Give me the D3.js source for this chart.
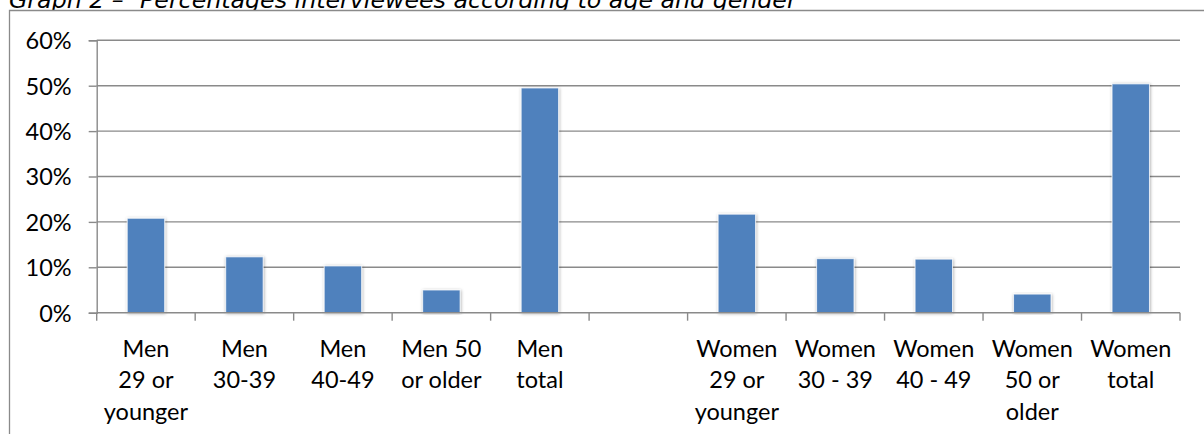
<!DOCTYPE html>
<html>
<head>
<meta charset="utf-8">
<script src="https://cdn.jsdelivr.net/npm/d3@7"></script>
<style>
  html, body { margin: 0; padding: 0; background: #fff; overflow: hidden; }
  svg { display: block; }
</style>
</head>
<body>
<svg id="chart" width="1204" height="434"></svg>
<script>
// Caption
const titleLead = "Graph 2 –";
const titleText = "Percentages interviewees according to age and gender";

// Categories (one empty slot separates men and women)
const categories = [
  "Men 29 or younger", "Men 30-39", "Men 40-49", "Men 50 or older", "Men total",
  "",
  "Women 29 or younger", "Women 30 - 39", "Women 40 - 49", "Women 50 or older", "Women total"
];
// Wrapped axis labels, one array of lines per category
const categoryLines = [
  ["Men", "29 or", "younger"], ["Men", "30-39"], ["Men", "40-49"], ["Men 50", "or older"], ["Men", "total"],
  [],
  ["Women", "29 or", "younger"], ["Women", "30 - 39"], ["Women", "40 - 49"], ["Women", "50 or", "older"], ["Women", "total"]
];
// Share of interviewees, percent
const values = [20.8, 12.3, 10.3, 5.0, 49.5, null, 21.7, 11.9, 11.8, 4.1, 50.4];

// Value axis ticks, percent
const yTicks = [0, 10, 20, 30, 40, 50, 60];

const svg = d3.select("#chart");
const W = 1204, H = 434;
const plot = { left: 96.7, right: 1180, top: 40.3, bottom: 312.7 };
const gridColor = "#8a8a8a";
const barColor = "#4f81bd";
const labelFont = "Lato, 'Open Sans', sans-serif";

// Soft shadow around the columns
const defs = svg.append("defs");
const f = defs.append("filter").attr("id", "barShadow")
  .attr("x", "-30%").attr("y", "-10%").attr("width", "160%").attr("height", "120%");
f.append("feDropShadow").attr("dx", 0.6).attr("dy", 0.6)
  .attr("stdDeviation", 1.6).attr("flood-color", "#000").attr("flood-opacity", 0.35);

// Caption, running off the top edge
const title = svg.append("text")
  .attr("y", 7.5)
  .attr("font-family", "'DejaVu Sans', Verdana, sans-serif")
  .attr("font-style", "italic")
  .attr("font-size", 21)
  .attr("fill", "#000");
title.append("tspan").attr("x", 9).text(titleLead);
const titleMain = title.append("tspan").attr("x", 140).text(titleText);
const mainLen = titleMain.node().getComputedTextLength();
title.attr("font-size", 21 * 657 / mainLen);

// Chart area with its frame, laid over the caption's descenders
svg.append("rect")
  .attr("x", 9.5).attr("y", 10.5)
  .attr("width", W).attr("height", H)
  .attr("fill", "#fff");
svg.append("path")
  .attr("d", `M9.5,${H} V10.5 H${W}`)
  .attr("fill", "none").attr("stroke", gridColor).attr("stroke-width", 1.3);

// Scales
const x = d3.scaleBand()
  .domain(d3.range(categories.length))
  .range([plot.left, plot.right])
  .paddingInner(0).paddingOuter(0);
const barW = x.bandwidth() * 0.38;

const y = d3.scaleLinear()
  .domain([0, 60])
  .range([plot.bottom, plot.top]);

// Gridlines
svg.append("g")
  .selectAll("line")
  .data(yTicks.filter(d => d > 0))
  .join("line")
  .attr("x1", plot.left).attr("x2", plot.right)
  .attr("y1", d => y(d)).attr("y2", d => y(d))
  .attr("stroke", gridColor).attr("stroke-width", 1.4);

// Value axis
const yAxis = svg.append("g")
  .attr("transform", `translate(${plot.left},0)`)
  .call(d3.axisLeft(y).tickValues(yTicks).tickFormat(d => d + "%").tickSize(8).tickPadding(17));
yAxis.select(".domain").attr("stroke", gridColor).attr("stroke-width", 1.4);
yAxis.selectAll(".tick line").attr("stroke", gridColor).attr("stroke-width", 1.4);
yAxis.selectAll(".tick text")
  .attr("font-family", labelFont).attr("font-size", 23.5).attr("fill", "#000")
  .attr("dy", "0.36em");

// Columns
svg.append("g")
  .selectAll("rect")
  .data(values.map((v, i) => ({ v, i })).filter(d => d.v != null))
  .join("rect")
  .attr("x", d => x(d.i) + (x.bandwidth() - barW) / 2)
  .attr("width", barW)
  .attr("y", d => y(d.v))
  .attr("height", d => y(0) - y(d.v))
  .attr("fill", barColor)
  .attr("stroke", "#ffffff").attr("stroke-opacity", 0.75).attr("stroke-width", 1)
  .attr("filter", "url(#barShadow)");

// Category axis: baseline and ticks at slot boundaries
const bounds = d3.range(categories.length + 1).map(i =>
  i < categories.length ? x(i) : x(categories.length - 1) + x.bandwidth());
svg.append("line")
  .attr("x1", plot.left).attr("x2", plot.right)
  .attr("y1", y(0)).attr("y2", y(0))
  .attr("stroke", gridColor).attr("stroke-width", 1.4);
svg.append("g")
  .selectAll("line")
  .data(bounds)
  .join("line")
  .attr("x1", d => d).attr("x2", d => d)
  .attr("y1", y(0)).attr("y2", y(0) + 8)
  .attr("stroke", gridColor).attr("stroke-width", 1.4);

// Category labels
const lineGap = 31.5;
svg.append("g")
  .selectAll("text")
  .data(categoryLines.map((lines, i) => ({ lines, i })))
  .join("text")
  .attr("text-anchor", "middle")
  .attr("font-family", labelFont).attr("font-size", 23.5).attr("fill", "#000")
  .each(function (d) {
    const t = d3.select(this);
    d.lines.forEach((ln, k) => {
      t.append("tspan")
        .attr("x", x(d.i) + x.bandwidth() / 2)
        .attr("y", 356.5 + k * lineGap)
        .text(ln);
    });
  });
</script>
</body>
</html>
